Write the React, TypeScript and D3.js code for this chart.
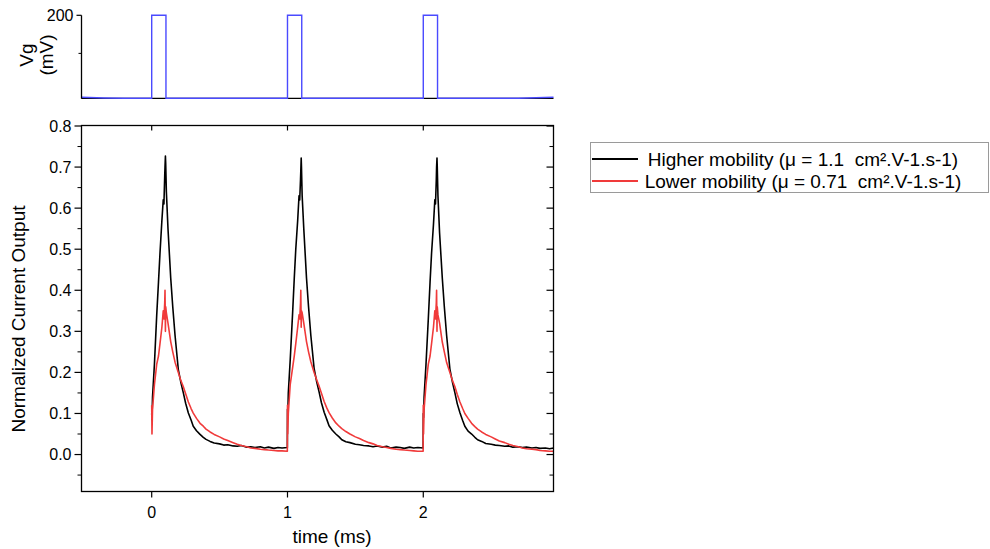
import React from 'react';
import * as d3 from 'd3';

// ---------- data ----------
const pulseStarts = [0, 1, 2];
const relTime = [
  0, 0.002, 0.006, 0.02, 0.037, 0.05, 0.061, 0.075, 0.085, 0.09, 0.096, 0.098,
  0.101, 0.103, 0.108, 0.12, 0.14, 0.155, 0.172, 0.196, 0.215, 0.233, 0.25, 0.27,
  0.29, 0.306, 0.33, 0.356, 0.38, 0.4, 0.43, 0.46, 0.5, 0.53, 0.56, 0.6,
  0.63, 0.66, 0.7, 0.73, 0.76, 0.8, 0.83, 0.86, 0.9, 0.93, 0.96, 0.999,
];
const higherPulse1 = [
  0.10, 0.085, 0.14, 0.22, 0.34, 0.42, 0.49, 0.57, 0.62, 0.61, 0.68, 0.70,
  0.727, 0.71, 0.64, 0.55, 0.43, 0.36, 0.29, 0.207, 0.175, 0.15, 0.125, 0.101,
  0.084, 0.069, 0.058, 0.049, 0.042, 0.037, 0.032, 0.028, 0.026, 0.023, 0.024, 0.021,
  0.020, 0.022, 0.018, 0.019, 0.017, 0.019, 0.016, 0.018, 0.015, 0.017, 0.016, 0.017,
];
const higherPulse2 = [
  0.11, 0.09, 0.15, 0.23, 0.34, 0.43, 0.50, 0.57, 0.63, 0.62, 0.67, 0.69,
  0.722, 0.70, 0.63, 0.55, 0.43, 0.36, 0.29, 0.21, 0.177, 0.152, 0.126, 0.103,
  0.085, 0.070, 0.059, 0.050, 0.043, 0.036, 0.031, 0.029, 0.025, 0.024, 0.022, 0.021,
  0.019, 0.021, 0.018, 0.020, 0.016, 0.018, 0.017, 0.015, 0.018, 0.016, 0.017, 0.016,
];
const higherPulse3 = [
  0.10, 0.09, 0.14, 0.22, 0.33, 0.42, 0.49, 0.56, 0.62, 0.61, 0.67, 0.70,
  0.722, 0.70, 0.63, 0.54, 0.43, 0.36, 0.29, 0.208, 0.176, 0.15, 0.124, 0.102,
  0.083, 0.069, 0.057, 0.050, 0.042, 0.036, 0.032, 0.027, 0.025, 0.023, 0.022, 0.020,
  0.021, 0.018, 0.019, 0.017, 0.018, 0.016, 0.017, 0.015, 0.016, 0.014, 0.016, 0.015,
];
const lowerPulse1 = [
  0.12, 0.05, 0.11, 0.17, 0.22, 0.24, 0.27, 0.31, 0.35, 0.33, 0.37, 0.40,
  0.30, 0.36, 0.345, 0.32, 0.275, 0.25, 0.225, 0.20, 0.18, 0.165, 0.148, 0.128,
  0.112, 0.101, 0.088, 0.076, 0.069, 0.062, 0.055, 0.049, 0.043, 0.038, 0.034, 0.029,
  0.025, 0.022, 0.019, 0.016, 0.015, 0.013, 0.012, 0.011, 0.010, 0.009, 0.009, 0.008,
];
const lowerPulse2 = [
  0.12, 0.05, 0.10, 0.17, 0.21, 0.24, 0.27, 0.31, 0.34, 0.33, 0.37, 0.40,
  0.31, 0.35, 0.345, 0.32, 0.275, 0.25, 0.226, 0.20, 0.182, 0.166, 0.149, 0.129,
  0.113, 0.102, 0.089, 0.077, 0.069, 0.063, 0.056, 0.050, 0.043, 0.039, 0.034, 0.029,
  0.026, 0.022, 0.019, 0.017, 0.015, 0.013, 0.012, 0.011, 0.010, 0.009, 0.008, 0.008,
];
const lowerPulse3 = [
  0.12, 0.05, 0.11, 0.17, 0.22, 0.24, 0.27, 0.31, 0.35, 0.33, 0.37, 0.40,
  0.30, 0.36, 0.34, 0.32, 0.274, 0.25, 0.224, 0.20, 0.18, 0.165, 0.147, 0.128,
  0.112, 0.10, 0.088, 0.076, 0.068, 0.062, 0.055, 0.049, 0.043, 0.038, 0.033, 0.029,
  0.025, 0.022, 0.019, 0.016, 0.014, 0.013, 0.012, 0.010, 0.009, 0.008, 0.008, 0.007,
];
const higherPulses = [higherPulse1, higherPulse2, higherPulse3];
const lowerPulses = [lowerPulse1, lowerPulse2, lowerPulse3];

const vgTime = [-0.517, -0.35, -0.2, 0, 0, 0.105, 0.105, 1, 1, 1.105, 1.105, 2, 2, 2.105, 2.105, 2.7, 2.959];
const vgValue = [-15, -17, -18, -18, 200, 200, -18, -18, 200, 200, -18, -18, 200, 200, -18, -18, -15];

const xTicks = [0, 1, 2];
const yMajorTicks = [0, 0.1, 0.2, 0.3, 0.4, 0.5, 0.6, 0.7, 0.8];
const yMinorTicks = [-0.05, 0.05, 0.15, 0.25, 0.35, 0.45, 0.55, 0.65, 0.75];
const vgMajorTicks = [200];
const vgMinorTicks = [100];
const seriesNames = [
  'Higher mobility (μ = 1.1  cm².V-1.s-1)',
  'Lower mobility (μ = 0.71  cm².V-1.s-1)',
];
const seriesColors = ['#000000', '#f03a3a'];

const FONT = '"Liberation Sans", Arial, sans-serif';

export default function App() {
  const L = 81.5, R = 553.5, T = 125.5, B = 491.5;
  const x = d3.scaleLinear().domain([-0.517, 2.959]).range([L, R]);
  const y = d3.scaleLinear().domain([-0.09, 0.8]).range([B, 126]);
  const yTop = d3.scaleLinear().domain([-19, 200]).range([98.7, 15.3]);

  const line = d3.line<[number, number]>().x(d => x(d[0])).y(d => y(d[1]));
  const vgLine = d3.line<[number, number]>().x(d => x(d[0])).y(d => yTop(d[1]));

  const buildSeries = (pulses: number[][]) => {
    const pts: [number, number][] = [];
    pulses.forEach((vals, i) => {
      relTime.forEach((r, j) => pts.push([pulseStarts[i] + r, vals[j]]));
    });
    return pts;
  };
  const higherPts = buildSeries(higherPulses);
  const lowerPts = buildSeries(lowerPulses);
  const vgPts = vgTime.map((t, i) => [t, vgValue[i]] as [number, number]);

  return (
    <svg width={990} height={549} style={{ position: 'absolute', left: 0, top: 0, background: '#fff' }}
      fontFamily={FONT}>
      <defs>
        <clipPath id="plotClip"><rect x={L} y={T} width={R - L} height={B - T} /></clipPath>
      </defs>

      {/* ---------- top Vg panel ---------- */}
      <line x1={L} x2={R} y1={yTop(-18)} y2={yTop(-18)} stroke="#000" strokeWidth={1.2} />
      <path d={vgLine(vgPts) || ''} fill="none" stroke="#4a4aff" strokeWidth={1.4} />
      <line x1={L} x2={L} y1={yTop(200)} y2={yTop(-19)} stroke="#000" strokeWidth={1.3} />
      {vgMajorTicks.map(v => (
        <g key={'vm' + v}>
          <line x1={L - 5} x2={L} y1={yTop(v)} y2={yTop(v)} stroke="#000" strokeWidth={1.2} />
          <text x={L - 8} y={yTop(v)} dy="0.35em" textAnchor="end" fontSize={16}>{v}</text>
        </g>
      ))}
      {vgMinorTicks.map(v => (
        <line key={'vn' + v} x1={L - 3} x2={L} y1={yTop(v)} y2={yTop(v)} stroke="#000" strokeWidth={1} />
      ))}
      <g transform="translate(26,55) rotate(-90)">
        <text textAnchor="middle" dy="0.35em" fontSize={19}>Vg</text>
      </g>
      <g transform="translate(46,55) rotate(-90)">
        <text textAnchor="middle" dy="0.35em" fontSize={19}>(mV)</text>
      </g>

      {/* ---------- main panel ---------- */}
      <g clipPath="url(#plotClip)">
        <path d={line(higherPts) || ''} fill="none" stroke={seriesColors[0]} strokeWidth={1.6} strokeLinejoin="round" />
        <path d={line(lowerPts) || ''} fill="none" stroke={seriesColors[1]} strokeWidth={1.6} strokeLinejoin="round" />
      </g>
      <rect x={L} y={T} width={R - L} height={B - T} fill="none" stroke="#000" strokeWidth={1.3} />

      {/* y ticks */}
      {yMajorTicks.map(v => (
        <g key={'ym' + v}>
          <line x1={L - 7} x2={L} y1={y(v)} y2={y(v)} stroke="#000" strokeWidth={1.2} />
          <line x1={R - 7} x2={R} y1={y(v)} y2={y(v)} stroke="#000" strokeWidth={1.2} />
          <text x={L - 10} y={y(v)} dy="0.35em" textAnchor="end" fontSize={16}>{v.toFixed(1)}</text>
        </g>
      ))}
      {yMinorTicks.map(v => (
        <g key={'yn' + v}>
          <line x1={L - 4} x2={L} y1={y(v)} y2={y(v)} stroke="#000" strokeWidth={1} />
          <line x1={R - 4} x2={R} y1={y(v)} y2={y(v)} stroke="#000" strokeWidth={1} />
        </g>
      ))}
      {/* x ticks */}
      {xTicks.map(v => (
        <g key={'x' + v}>
          <line x1={x(v)} x2={x(v)} y1={B} y2={B + 6} stroke="#000" strokeWidth={1.2} />
          <line x1={x(v)} x2={x(v)} y1={T} y2={T + 5} stroke="#000" strokeWidth={1.2} />
          <text x={x(v)} y={B + 26} textAnchor="middle" fontSize={16}>{v}</text>
        </g>
      ))}
      <text x={332} y={543} textAnchor="middle" fontSize={19}>time (ms)</text>
      <g transform="translate(18,319) rotate(-90)">
        <text textAnchor="middle" dy="0.35em" fontSize={19}>Normalized Current Output</text>
      </g>

      {/* ---------- legend ---------- */}
      <rect x={590.5} y={142.5} width={398} height={50} fill="#fff" stroke="#9a9a9a" strokeWidth={1} />
      {seriesNames.map((name, i) => (
        <g key={name}>
          <line x1={592} x2={638} y1={159 + i * 22} y2={159 + i * 22} stroke={seriesColors[i]} strokeWidth={2} />
          <text x={803} y={159 + i * 22} dy="0.35em" textAnchor="middle" fontSize={19} style={{ whiteSpace: 'pre' }}>{name}</text>
        </g>
      ))}
    </svg>
  );
}
